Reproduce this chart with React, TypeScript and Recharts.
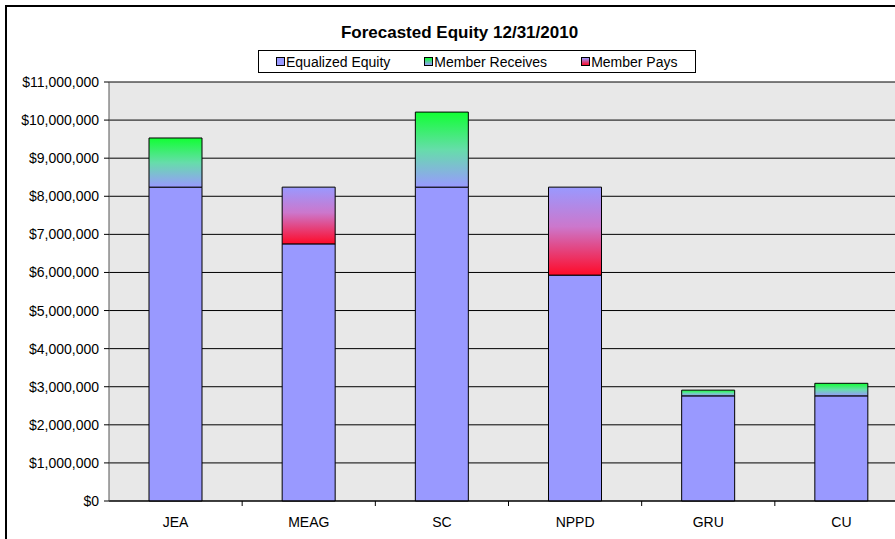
import React from "react";
import {
  BarChart,
  Bar,
  XAxis,
  YAxis,
  CartesianGrid,
  Legend,
} from "recharts";

const categories = ["JEA", "MEAG", "SC", "NPPD", "GRU", "CU"];
const equalizedEquity = [8240000, 6750000, 8240000, 5930000, 2760000, 2760000];
const memberReceives = [1290000, 0, 1970000, 0, 150000, 330000];
const memberPays = [0, 1490000, 0, 2310000, 0, 0];
const yTicks = [
  0, 1000000, 2000000, 3000000, 4000000, 5000000, 6000000, 7000000, 8000000,
  9000000, 10000000, 11000000,
];

const data = categories.map((name, i) => ({
  name,
  equalized: equalizedEquity[i],
  receives: memberReceives[i],
  pays: memberPays[i],
}));

const FONT = "'Liberation Sans', Arial, sans-serif";
const PERIWINKLE = "#9999FF";
const GREEN = "#11FF33";
const RED = "#FF0A28";

const money = (v: number) => "$" + v.toLocaleString("en-US");

// category label at the centre, tick mark on the right-hand boundary (Excel style)
const CategoryTick = (props: any) => {
  const { x, y, payload } = props;
  const half = payload?.offset ?? 0;
  return (
    <g>
      <line x1={x + half} x2={x + half} y1={y - 16} y2={y - 11} stroke="#000" />
      <text
        x={x}
        y={y}
        dy="0.71em"
        textAnchor="middle"
        fill="#000"
        fontSize={14}
        fontFamily={FONT}
      >
        {payload.value}
      </text>
    </g>
  );
};

const legendItems = [
  { label: "Equalized Equity", bg: PERIWINKLE },
  { label: "Member Receives", bg: `linear-gradient(${GREEN}, ${PERIWINKLE})` },
  { label: "Member Pays", bg: `linear-gradient(${PERIWINKLE}, ${RED})` },
];

const LegendBox = () => (
  <div
    style={{
      boxSizing: "border-box",
      width: 438,
      height: 23,
      border: "1px solid #000",
      background: "#fff",
      display: "flex",
      flexWrap: "nowrap",
      alignItems: "center",
      paddingLeft: 17,
      fontFamily: FONT,
      fontSize: 14,
      color: "#000",
      whiteSpace: "nowrap",
    }}
  >
    {legendItems.map((it) => (
      <div
        key={it.label}
        style={{
          display: "flex",
          alignItems: "center",
          flexShrink: 0,
          marginRight: 34,
        }}
      >
        <span
          style={{
            display: "inline-block",
            flexShrink: 0,
            width: 7,
            height: 7,
            border: "1px solid #000",
            background: it.bg,
            marginRight: 1,
          }}
        />
        <span style={{ lineHeight: "16px" }}>{it.label}</span>
      </div>
    ))}
  </div>
);

export default function App() {
  return (
    <div
      style={{
        position: "fixed",
        left: 0,
        top: 0,
        width: 895,
        height: 539,
        overflow: "hidden",
        background: "#fff",
      }}
    >
      {/* chart frame, runs off the right and bottom edges */}
      <div
        style={{
          position: "absolute",
          left: 5,
          top: 5,
          width: 950,
          height: 600,
          border: "2px solid #000",
        }}
      />
      <div
        style={{
          position: "absolute",
          left: 0,
          top: 22,
          width: 919,
          textAlign: "center",
          fontFamily: FONT,
          fontWeight: "bold",
          fontSize: 17,
          lineHeight: "22px",
          color: "#000",
        }}
      >
        Forecasted Equity 12/31/2010
      </div>
      <div style={{ position: "absolute", left: 0, top: 0 }}>
        <BarChart
          width={930}
          height={560}
          data={data}
          margin={{ top: 82, right: 22, bottom: 29, left: 0 }}
        >
          <defs>
            <linearGradient id="gradReceives" x1="0" y1="0" x2="0" y2="1">
              <stop offset="0%" stopColor={GREEN} />
              <stop offset="50%" stopColor="#66DDAA" />
              <stop offset="100%" stopColor={PERIWINKLE} />
            </linearGradient>
            <linearGradient id="gradPays" x1="0" y1="0" x2="0" y2="1">
              <stop offset="0%" stopColor={PERIWINKLE} />
              <stop offset="45%" stopColor="#CC77CC" />
              <stop offset="100%" stopColor={RED} />
            </linearGradient>
          </defs>
          <CartesianGrid
            vertical={false}
            stroke="#000"
            fill="#E8E8E8"
            fillOpacity={1}
          />
          <XAxis
            dataKey="name"
            height={30}
            tickSize={5}
            tickMargin={11}
            tickLine={false}
            axisLine={{ stroke: "#000" }}
            tick={<CategoryTick />}
            interval={0}
          />
          <YAxis
            width={109}
            domain={[0, 11000000]}
            ticks={yTicks}
            interval={0}
            tickFormatter={money}
            tickSize={5}
            tickMargin={5}
            axisLine={{ stroke: "#555" }}
            tickLine={{ stroke: "#000" }}
            tick={{ fill: "#000", fontSize: 14, fontFamily: FONT }}
          />
          <Legend
            layout="horizontal"
            verticalAlign="middle"
            align="center"
            wrapperStyle={{ top: 50, left: 258, width: 438, height: 23 }}
            content={() => <LegendBox />}
          />
          <Bar
            dataKey="equalized"
            stackId="a"
            barSize={53}
            fill={PERIWINKLE}
            stroke="#000"
            strokeWidth={1}
            isAnimationActive={false}
          />
          <Bar
            dataKey="receives"
            stackId="a"
            barSize={53}
            fill="url(#gradReceives)"
            stroke="#000"
            strokeWidth={1}
            isAnimationActive={false}
          />
          <Bar
            dataKey="pays"
            stackId="a"
            barSize={53}
            fill="url(#gradPays)"
            stroke="#000"
            strokeWidth={1}
            isAnimationActive={false}
          />
        </BarChart>
      </div>
    </div>
  );
}
